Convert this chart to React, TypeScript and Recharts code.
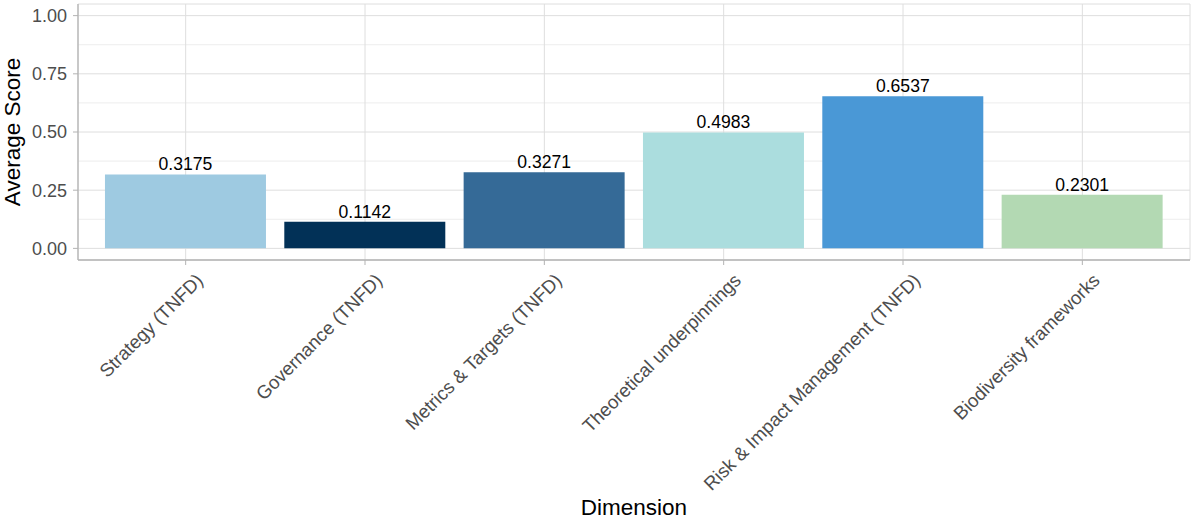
import React from 'react';
import { BarChart, Bar, XAxis, YAxis, CartesianGrid, Cell, LabelList, Label } from 'recharts';

const categories = [
  'Strategy (TNFD)',
  'Governance (TNFD)',
  'Metrics & Targets (TNFD)',
  'Theoretical underpinnings',
  'Risk & Impact Management (TNFD)',
  'Biodiversity frameworks',
];
const scores = [0.3175, 0.1142, 0.3271, 0.4983, 0.6537, 0.2301];
const barColors = ['#9ECAE1', '#023157', '#356A97', '#ABDDDE', '#4A98D6', '#B3D9B3'];
const yTicks = [0, 0.25, 0.5, 0.75, 1];
const yMinor = [0.125, 0.375, 0.625, 0.875];

const data = categories.map((c, i) => ({ dimension: c, score: scores[i] }));

const FONT = '"Liberation Sans", Arial, sans-serif';
const BORDER = '#b3b3b3';

const XTick = (props: any) => {
  const { x, y, payload } = props;
  return (
    <g transform={`translate(${x + 9},${y + 5})`}>
      <text
        transform="rotate(-45)"
        textAnchor="end"
        dy="0.72em"
        fill="#4d4d4d"
        fontSize={18.7}
        fontFamily={FONT}
      >
        {payload.value}
      </text>
    </g>
  );
};

export default function App() {
  return (
    <div style={{ position: 'absolute', left: 0, top: 0 }}>
      <BarChart
        width={1191}
        height={521}
        data={data}
        margin={{ top: 4, right: 1, left: 0, bottom: 0 }}
        barCategoryGap="5%"
      >
        <CartesianGrid
          stroke="#ededed"
          strokeWidth={1}
          vertical={false}
          horizontalValues={yMinor}
        />
        <CartesianGrid stroke="#dedede" strokeWidth={1} />
        <XAxis
          dataKey="dimension"
          height={261}
          interval={0}
          padding={{ left: 18, right: 18 }}
          tickSize={5}
          tickMargin={2}
          stroke={BORDER}
          axisLine={{ stroke: BORDER, strokeWidth: 1.3 }}
          tickLine={{ stroke: BORDER }}
          tick={<XTick />}
        >
          <Label
            content={(p: any) => {
              const vb = p.viewBox;
              return (
                <text
                  x={vb.x + vb.width / 2}
                  y={vb.y + vb.height - 6}
                  textAnchor="middle"
                  fontSize={22.5}
                  fontFamily={FONT}
                  fill="#000"
                >
                  Dimension
                </text>
              );
            }}
          />
        </XAxis>
        <XAxis
          xAxisId="top"
          orientation="top"
          height={0}
          tick={false}
          tickLine={false}
          axisLine={{ stroke: BORDER, strokeWidth: 1.3 }}
        />
        <YAxis
          width={78}
          domain={[-0.05, 1.05]}
          ticks={yTicks}
          allowDataOverflow
          tickFormatter={(v: number) => v.toFixed(2)}
          tickSize={5}
          tickMargin={6}
          axisLine={{ stroke: BORDER, strokeWidth: 1.3 }}
          tickLine={{ stroke: BORDER }}
          tick={{ fill: '#4d4d4d', fontSize: 18, fontFamily: FONT }}
        >
          <Label
            content={(p: any) => {
              const vb = p.viewBox;
              const cx = 19.5;
              const cy = vb.y + vb.height / 2;
              return (
                <text
                  x={cx}
                  y={cy}
                  transform={`rotate(-90, ${cx}, ${cy})`}
                  textAnchor="middle"
                  fontSize={22.5}
                  fontFamily={FONT}
                  fill="#000"
                >
                  Average Score
                </text>
              );
            }}
          />
        </YAxis>
        <YAxis
          yAxisId="right"
          orientation="right"
          width={0}
          tick={false}
          tickLine={false}
          axisLine={{ stroke: BORDER, strokeWidth: 1.3 }}
        />
        <Bar dataKey="score" isAnimationActive={false}>
          {data.map((d, i) => (
            <Cell key={d.dimension} fill={barColors[i]} />
          ))}
          <LabelList
            dataKey="score"
            position="top"
            offset={4}
            formatter={(v: any) => Number(v).toFixed(4)}
            fill="#000"
            fontSize={17.6}
            fontFamily={FONT}
          />
        </Bar>
      </BarChart>
    </div>
  );
}
